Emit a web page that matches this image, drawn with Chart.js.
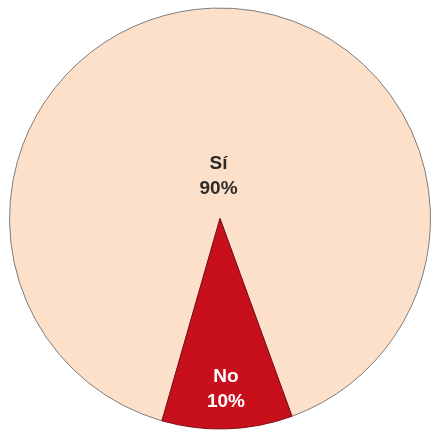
<!DOCTYPE html>
<html><head><meta charset="utf-8">
<script src="https://cdn.jsdelivr.net/npm/chart.js@4"></script>
<style>html,body{margin:0;padding:0;background:#fff}#wrap{width:432px;height:433px;position:relative}</style>
</head><body><div id="wrap"><canvas id="c"></canvas></div>
<script>
const categories = ['Sí', 'No'];
const values = [90, 10];
const percentLabels = ['90%', '10%'];
const fills = ['#fde0c9', '#c8101d'];
const borders = ['#7d7d7d', '#7f0a12'];
const labelColors = ['#2e2a28', '#ffffff'];
const labelRadiusFrac = [0.2, 0.81];

const labelPlugin = {
  id: 'sliceLabels',
  afterDatasetsDraw(chart) {
    const ctx = chart.ctx;
    const meta = chart.getDatasetMeta(0);
    meta.data.forEach((arc, i) => {
      const p = arc.getProps(['x','y','startAngle','endAngle','outerRadius']);
      const mid = (p.startAngle + p.endAngle) / 2;
      const r = p.outerRadius * labelRadiusFrac[i];
      const x = p.x + Math.cos(mid) * r;
      const y = p.y + Math.sin(mid) * r;
      ctx.save();
      ctx.fillStyle = labelColors[i];
      ctx.font = 'bold 19px "Liberation Sans", Arial, sans-serif';
      ctx.textAlign = 'center';
      ctx.textBaseline = 'middle';
      ctx.fillText(categories[i], x, y - 12.5);
      ctx.fillText(percentLabels[i], x, y + 12.5);
      ctx.restore();
    });
  }
};

new Chart(document.getElementById('c'), {
  type: 'pie',
  data: {
    labels: categories,
    datasets: [{
      data: values,
      backgroundColor: fills,
      borderColor: borders,
      borderWidth: 1
    }]
  },
  options: {
    responsive: true,
    maintainAspectRatio: false,
    animation: false,
    rotation: 196,
    layout: { padding: { left: 9, right: 1, top: 7, bottom: 3 } },
    plugins: { legend: { display: false }, tooltip: { enabled: false } }
  },
  plugins: [labelPlugin]
});
</script>
</body></html>
